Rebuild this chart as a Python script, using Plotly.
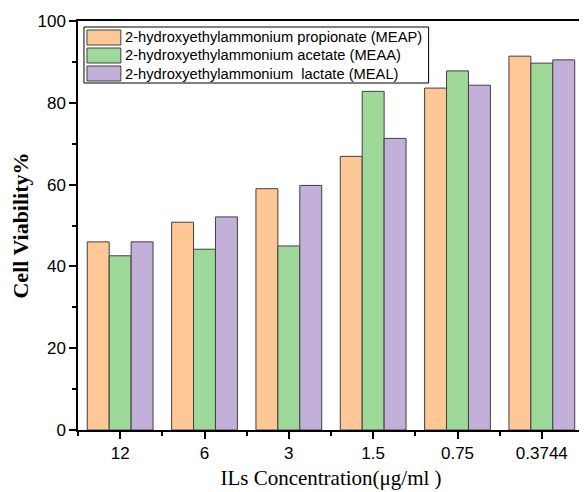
import plotly.graph_objects as go

categories = ["12", "6", "3", "1.5", "0.75", "0.3744"]
meap = [46.0, 50.8, 59.0, 66.9, 83.6, 91.4]
meaa = [42.6, 44.2, 45.0, 82.8, 87.8, 89.7]
meal = [46.0, 52.1, 59.8, 71.3, 84.3, 90.5]
names = ["2-hydroxyethylammonium propionate (MEAP)",
         "2-hydroxyethylammonium acetate (MEAA)",
         "2-hydroxyethylammonium  lactate (MEAL)"]
colors = ["#FDC896", "#9ED99A", "#C3B0D8"]

x = list(range(len(categories)))
fig = go.Figure()
for vals, name, c in zip([meap, meaa, meal], names, colors):
    fig.add_trace(go.Bar(x=x, y=vals, name=name, showlegend=False,
                         marker=dict(color=c, line=dict(color="#404040", width=1))))

# legend box drawn in plot-area pixel space (plot area: 508 x 409 px)
PW, PH = 508.0, 409.0
def px(v): return v / PW
def py(v): return 1 - v / PH

shapes = [dict(type="rect", xref="paper", yref="paper", x0=px(6), x1=px(352), y0=py(62), y1=py(6),
               line=dict(color="black", width=1), fillcolor="white", layer="above")]
annotations = []
for i, (name, c) in enumerate(zip(names, colors)):
    cy = 16.5 + 18 * i
    shapes.append(dict(type="rect", xref="paper", yref="paper", x0=px(9), x1=px(43),
                       y0=py(cy + 7.5), y1=py(cy - 7.5), line=dict(color="#404040", width=1),
                       fillcolor=c, layer="above"))
    annotations.append(dict(xref="paper", yref="paper", x=px(45), y=py(cy), text=name, showarrow=False,
                            xanchor="left", yanchor="middle",
                            font=dict(size=14.7, family="Arial, Liberation Sans", color="black")))

fig.update_layout(
    width=579, height=484,
    margin=dict(l=70, r=1, t=13, b=62),
    plot_bgcolor="white", paper_bgcolor="white",
    barmode="group", bargap=0.22, bargroupgap=0,
    font=dict(family="Arial, Liberation Sans", size=17, color="black"),
    shapes=shapes, annotations=annotations,
    xaxis=dict(range=[-0.5, 5.5], tickvals=x, ticktext=categories,
               ticks="outside", ticklen=7, tickwidth=1.5, tickcolor="black",
               showline=True, linecolor="black", linewidth=1.5, mirror=True,
               showgrid=False, zeroline=False,
               minor=dict(tickvals=[i + 0.5 for i in range(-1, 6)], ticks="outside", ticklen=4, tickcolor="black", tickwidth=1.5),
               title=dict(text="ILs Concentration(μg/ml )", font=dict(family="Times New Roman, Liberation Serif", size=21), standoff=8)),
    yaxis=dict(range=[0, 100], dtick=20, ticks="outside", ticklen=7, tickwidth=1.5, tickcolor="black",
               showline=True, linecolor="black", linewidth=1.5, mirror=True,
               showgrid=False, zeroline=False,
               minor=dict(dtick=10, ticks="outside", ticklen=4, tickcolor="black", tickwidth=1.5),
               title=dict(text="<b>Cell Viability%</b>", font=dict(family="Times New Roman, Liberation Serif", size=22), standoff=10)),
)
fig.write_html("out.html")
